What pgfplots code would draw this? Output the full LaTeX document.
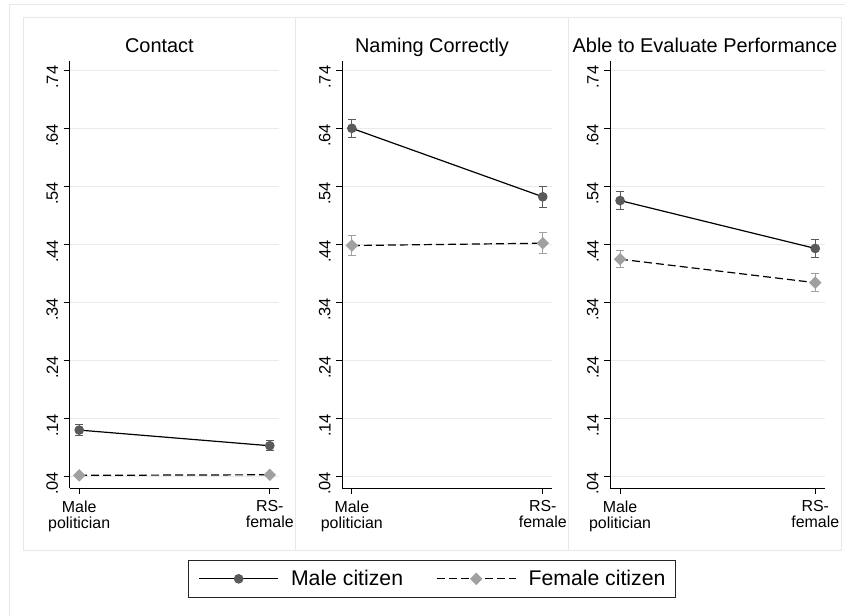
\documentclass[border=0pt]{standalone}
\usepackage{pgfplots}
\pgfplotsset{compat=1.18}
\usepackage{fontspec}
\setmainfont{Liberation Sans}
\definecolor{gridc}{HTML}{EAEAEA}
\definecolor{maleC}{HTML}{5A5A5A}
\definecolor{femC}{HTML}{A0A0A0}
\definecolor{panelb}{HTML}{E8E8E8}
\pgfplotsset{
  panel/.style={
    scale only axis, width=#1, height=427.3bp,
    xmin=-0.05, xmax=1.05, ymin=0.0197, ymax=0.756,
    axis x line*=bottom, axis y line*=left,
    axis line style={black, line width=1.1bp},
    xtick={0,1}, xticklabels={{Male\\politician},{RS-\\female}},
    xticklabel style={align=center, font=\fontsize{16}{16}\selectfont, yshift=-3bp},
    ytick={0.04,0.14,0.24,0.34,0.44,0.54,0.64,0.74},
    yticklabels={.04,.14,.24,.34,.44,.54,.64,.74},
    yticklabel style={rotate=90, anchor=south, inner sep=5.5bp, xshift=-7bp, font=\fontsize{16.5}{16.5}\selectfont},
    tick align=outside, major tick length=6bp,
    tick style={black, line width=1bp},
    ymajorgrids, grid style={gridc, line width=1bp},
    clip=false,
    legend image code/.code={\draw[mark repeat=2, mark phase=2, ##1] plot coordinates {(0bp,0bp) (39.5bp,0bp) (79bp,0bp)};},
  },
  maleplot/.style={black, line width=1.2bp, mark=*, mark size=4.2bp,
    mark options={solid, fill=maleC, draw=maleC},
    error bars/.cd, y dir=both, y explicit,
    error bar style={maleC, line width=1bp},
    error mark options={rotate=90, mark size=4bp, maleC, line width=1bp}},
  femplot/.style={black, line width=1.2bp, dash pattern=on 8bp off 4bp, mark=square*, mark size=3.8bp,
    mark options={solid, rotate=45, fill=femC, draw=femC},
    error bars/.cd, y dir=both, y explicit,
    error bar style={femC, line width=1bp, solid},
    error mark options={rotate=90, mark size=4bp, femC, line width=1bp, solid}},
}
\begin{document}
\begin{tikzpicture}[x=1bp, y=1bp]
\useasboundingbox (0,0) rectangle (845,616);
\draw[panelb, line width=1bp] (9,0) -- (9,611) -- (845,611);
\draw[panelb, line width=1bp, fill=white] (23,65) rectangle (295.7,598);
\draw[panelb, line width=1bp, fill=white] (295.7,65) rectangle (568.3,598);
\draw[panelb, line width=1bp, fill=white] (568.3,65) rectangle (841.7,598);

\begin{axis}[panel=209.6bp, at={(69.7bp,127.7bp)}, anchor=south west]
\addplot[maleplot] coordinates {(0,0.120) +- (0,0.010) (1,0.093) +- (0,0.009)};
\addplot[femplot] coordinates {(0,0.042) +- (0,0.003) (1,0.043) +- (0,0.003)};
\end{axis}

\begin{axis}[panel=210bp, at={(342.3bp,127.7bp)}, anchor=south west,
  legend columns=2,
  legend style={at={(0.427,-0.2119)}, anchor=center, draw=black!85, line width=1bp,
    font=\fontsize{21.3}{21.3}\selectfont, inner xsep=10bp, inner ysep=9bp,
    nodes={inner xsep=0bp, inner ysep=1bp},
    /tikz/every odd column/.append style={column sep=12.3bp},
    /tikz/every even column/.append style={column sep=33bp}}]
\addplot[maleplot] coordinates {(0,0.640) +- (0,0.016) (1,0.522) +- (0,0.018)};
\addlegendentry{Male citizen}
\addplot[femplot] coordinates {(0,0.438) +- (0,0.017) (1,0.442) +- (0,0.018)};
\addlegendentry{Female citizen}
\end{axis}

\begin{axis}[panel=214.7bp, at={(610.3bp,127.7bp)}, anchor=south west]
\addplot[maleplot] coordinates {(0,0.5155) +- (0,0.0155) (1,0.433) +- (0,0.0155)};
\addplot[femplot] coordinates {(0,0.4145) +- (0,0.015) (1,0.374) +- (0,0.015)};
\end{axis}

\node[anchor=base, font=\fontsize{20}{20}\selectfont] at (159.4,563.7) {Contact};
\node[anchor=base, font=\fontsize{20}{20}\selectfont] at (432,563.7) {Naming Correctly};
\node[anchor=base, font=\fontsize{20}{20}\selectfont] at (705,563.7) {Able to Evaluate Performance};
\end{tikzpicture}
\end{document}
